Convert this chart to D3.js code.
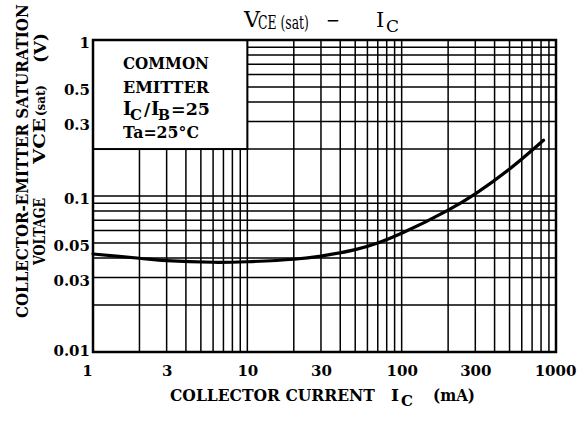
<!DOCTYPE html>
<meta charset="utf-8">
<style>
  body { margin: 0; background: #fff; }
  svg { display: block; }
  text { font-family: "DejaVu Serif", serif; fill: #000; }
  .tick text { font-weight: bold; font-size: 15px; }
</style>
<body>
<script src="https://d3js.org/d3.v7.min.js"></script>
<script>
// curve
var currentMA = [1, 2, 3, 6, 10, 20, 30, 50, 70, 100, 200, 300, 500, 830];
var vceSat    = [0.0425, 0.0399, 0.0385, 0.0376, 0.0379, 0.0393, 0.0412, 0.0453, 0.050, 0.0577, 0.0812, 0.1033, 0.1488, 0.2275];

var xTicks = [1, 3, 10, 30, 100, 300, 1000];
var xTickLabels = ["1", "3", "10", "30", "100", "300", "1000"];
var yTicks = [0.01, 0.03, 0.05, 0.1, 0.3, 0.5, 1];
var yTickLabels = ["0.01", "0.03", "0.05", "0.1", "0.3", "0.5", "1"];

var legendLines = ["COMMON", "EMITTER"];

var width = 584, height = 421;

var svg = d3.select("body").append("svg")
  .attr("width", width)
  .attr("height", height);

var x = d3.scaleLog().domain([1, 1000]).range([93, 556]);
var y = d3.scaleLog().domain([0.01, 1]).range([352, 40]);

// grid values: 1..9 in every decade
function logGrid(lo, hi) {
  var out = [];
  for (var d = lo; d < hi; d *= 10) {
    for (var k = 1; k < 10; k++) out.push(d * k);
  }
  out.push(hi);
  return out;
}
var xGrid = logGrid(1, 1000);
var yGrid = logGrid(0.01, 1);

// legend box occupies 1..10 mA and 0.2..1 V
var boxX = 10, boxY = 0.2;

var grid = svg.append("g").attr("stroke", "#000").attr("stroke-width", 1.5);

grid.selectAll("line.v")
  .data(xGrid)
  .enter().append("line")
    .attr("class", "v")
    .attr("x1", function(d){ return x(d); })
    .attr("x2", function(d){ return x(d); })
    .attr("y1", function(d){ return d < boxX ? y(boxY) : y(1); })
    .attr("y2", y(0.01));

grid.selectAll("line.h")
  .data(yGrid)
  .enter().append("line")
    .attr("class", "h")
    .attr("y1", function(d){ return y(d); })
    .attr("y2", function(d){ return y(d); })
    .attr("x1", function(d){ return d > boxY ? x(boxX) : x(1); })
    .attr("x2", x(1000));

// legend box
svg.append("rect")
  .attr("x", x(1)).attr("y", y(1))
  .attr("width", x(boxX) - x(1))
  .attr("height", y(boxY) - y(1))
  .attr("fill", "#fff")
  .attr("stroke", "#000")
  .attr("stroke-width", 2);

// frame
svg.append("rect")
  .attr("x", x(1)).attr("y", y(1))
  .attr("width", x(1000) - x(1))
  .attr("height", y(0.01) - y(1))
  .attr("fill", "none")
  .attr("stroke", "#000")
  .attr("stroke-width", 2.5);

// curve
var pts = currentMA.map(function(d, i){ return [d, vceSat[i]]; });
var line = d3.line()
  .x(function(d){ return x(d[0]); })
  .y(function(d){ return y(d[1]); })
  .curve(d3.curveCatmullRom.alpha(0.5));

svg.append("path")
  .datum(pts)
  .attr("d", line)
  .attr("fill", "none")
  .attr("stroke", "#000")
  .attr("stroke-width", 3.2)
  .attr("stroke-linecap", "round");

// axes (labels only)
var xAxis = svg.append("g")
  .attr("transform", "translate(0," + y(0.01) + ")")
  .call(d3.axisBottom(x).tickValues(xTicks).tickSize(0)
    .tickFormat(function(d, i){ return xTickLabels[i]; }));
xAxis.select(".domain").remove();
xAxis.selectAll(".tick text")
  .attr("y", 24).attr("dy", 0)
  .attr("dx", function(d){ return d === 1 ? -6 : (d === 1000 ? -1 : 0); });

var yAxis = svg.append("g")
  .attr("transform", "translate(" + x(1) + ",0)")
  .call(d3.axisLeft(y).tickValues(yTicks).tickSize(0).tickPadding(3)
    .tickFormat(function(d, i){ return yTickLabels[i]; }));
yAxis.select(".domain").remove();
yAxis.selectAll(".tick text")
  .attr("dy", function(d){ return d === 0.01 ? "0.2em" : "0.5em"; });

// text squeezed to a given length (the original face is narrower)
function label(g, px, py, size, len, s, rot) {
  var t = g.append("text").style("font-size", size + "px").text(s);
  var sx = len ? len / t.node().getComputedTextLength() : 1;
  t.attr("transform", "translate(" + px + "," + py + ")" +
    (rot ? " rotate(-90)" : "") + " scale(" + sx + ",1)");
  return t;
}

// title
var title = svg.append("g");
label(title, 244, 27, 22, 0, "V");
label(title, 258, 29, 18, 51, "CE (sat)");
label(title, 326, 27, 20, 14, "\u2212");
label(title, 376, 27, 21, 0, "I");
label(title, 386, 32, 17, 0, "C");

// legend text
var leg = svg.append("g").style("font-weight", "bold");
legendLines.forEach(function(s, i){
  label(leg, 123, 69 + i * 24, 17, 86, s);
});
label(leg, 123, 115, 18, 0, "I");
label(leg, 130, 120, 15, 12, "C");
label(leg, 144, 115, 17, 0, "/");
label(leg, 151, 115, 18, 0, "I");
label(leg, 158, 120, 15, 12, "B");
label(leg, 171, 115, 17, 39, "=25");
label(leg, 123, 138, 16, 76, "Ta=25\u00B0C");

// x axis title
var xt = svg.append("g").style("font-weight", "bold");
label(xt, 170, 401, 17, 205, "COLLECTOR CURRENT");
label(xt, 391, 401, 17, 0, "I");
label(xt, 401, 406, 15, 12, "C");
label(xt, 433, 401, 17, 42, "(mA)");

// y axis title, rotated
var yt = svg.append("g").style("font-weight", "bold");
label(yt, 28, 318, 16, 314, "COLLECTOR-EMITTER SATURATION", true);
label(yt, 45, 265, 17, 67, "VOLTAGE", true);
label(yt, 45, 164, 17, 46, "VCE", true);
label(yt, 45, 116, 13, 31, "(sat)", true);
label(yt, 46, 63, 16, 30, "(V)", true);
</script>
</body>
